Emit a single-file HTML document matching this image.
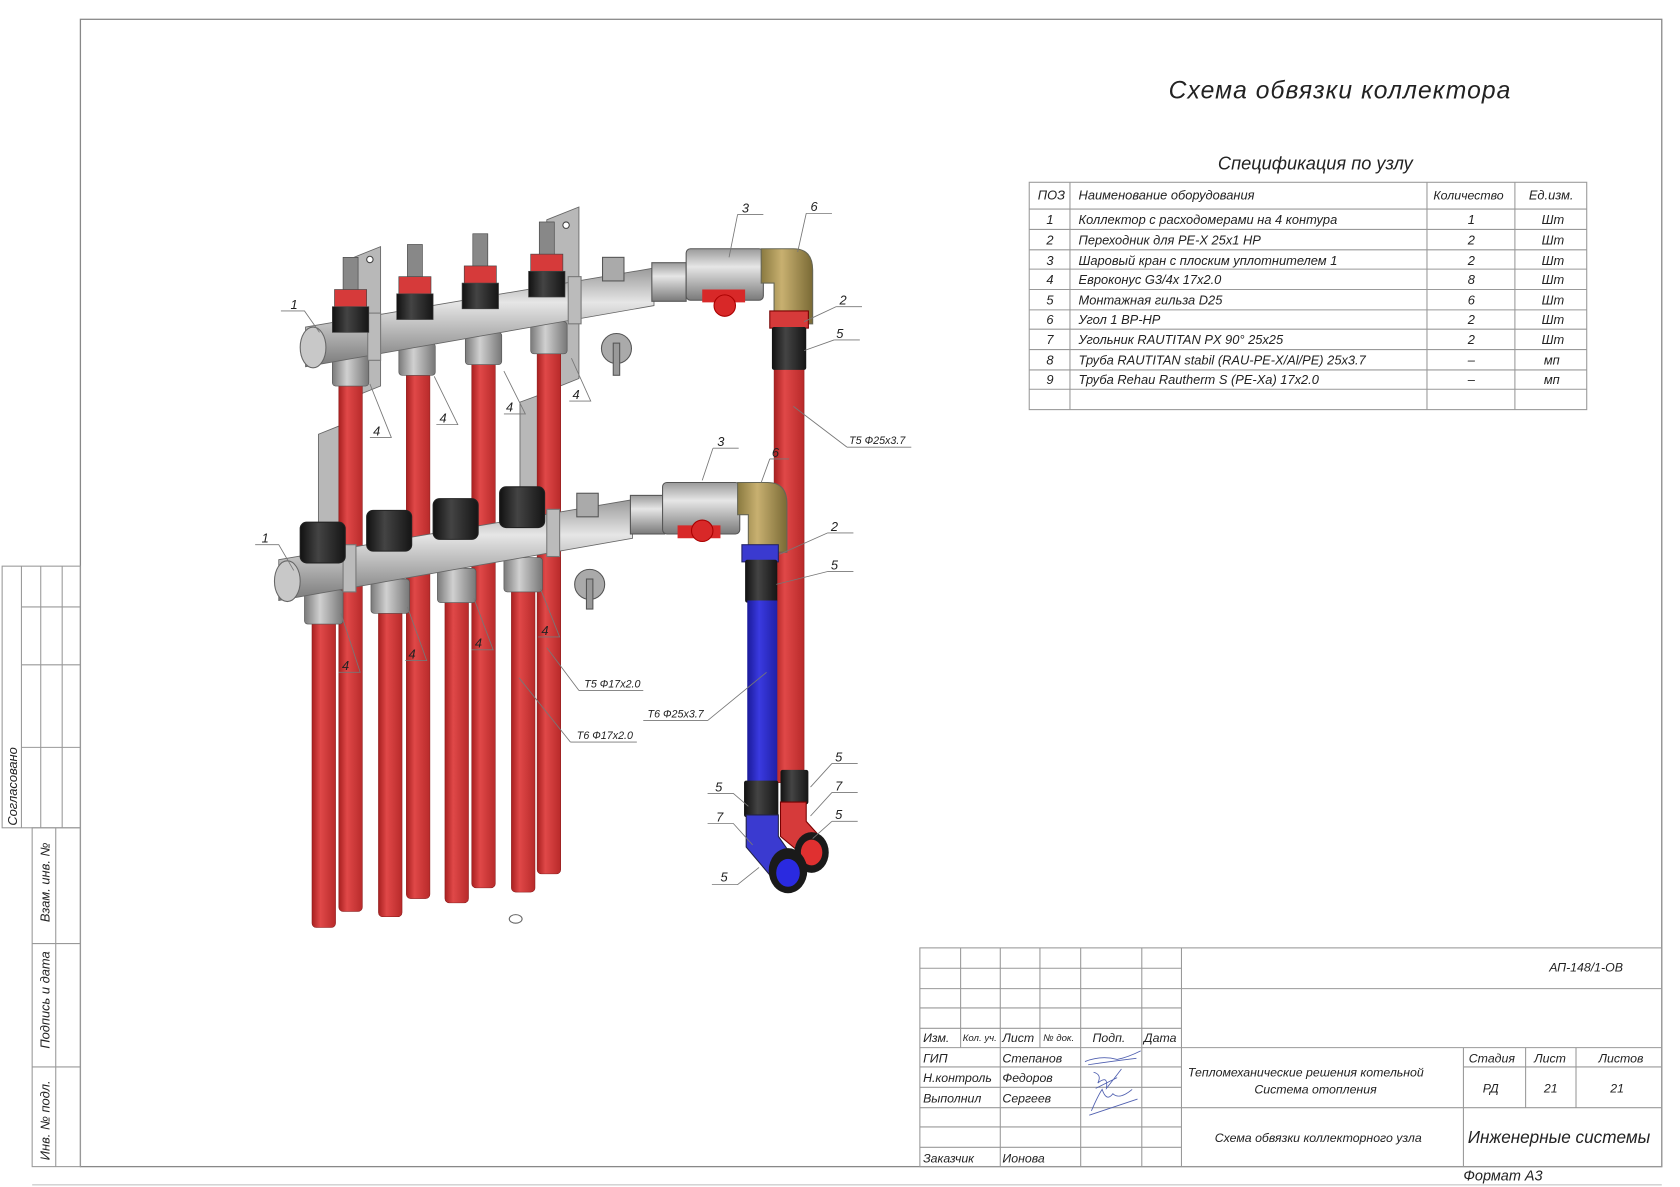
<!DOCTYPE html>
<html><head><meta charset="utf-8">
<style>
html,body{margin:0;padding:0;background:#fff;}
svg{display:block;}
text{font-family:"Liberation Sans","DejaVu Sans",sans-serif;font-style:italic;fill:#222;}
</style></head><body>
<svg width="1680" height="1187" viewBox="0 0 1567 1107" preserveAspectRatio="none" xmlns="http://www.w3.org/2000/svg">
<defs>
<linearGradient id="red" x1="0" x2="1"><stop offset="0" stop-color="#a82020"/><stop offset="0.35" stop-color="#e04848"/><stop offset="1" stop-color="#b82a2a"/></linearGradient>
<linearGradient id="blue" x1="0" x2="1"><stop offset="0" stop-color="#1a1a9a"/><stop offset="0.4" stop-color="#3a3ae0"/><stop offset="1" stop-color="#2020a8"/></linearGradient>
<linearGradient id="steel" x1="0" y1="0" x2="0" y2="1"><stop offset="0" stop-color="#9a9a9a"/><stop offset="0.35" stop-color="#e6e6e6"/><stop offset="1" stop-color="#7a7a7a"/></linearGradient>
<linearGradient id="brass" x1="0" x2="1"><stop offset="0" stop-color="#8a7a40"/><stop offset="0.4" stop-color="#c8b070"/><stop offset="1" stop-color="#7a6a35"/></linearGradient>
<linearGradient id="blk" x1="0" x2="1"><stop offset="0" stop-color="#111"/><stop offset="0.4" stop-color="#444"/><stop offset="1" stop-color="#151515"/></linearGradient>
<linearGradient id="nut" x1="0" x2="1"><stop offset="0" stop-color="#7a7a7a"/><stop offset="0.4" stop-color="#d0d0d0"/><stop offset="1" stop-color="#777"/></linearGradient>
</defs>

<rect x="75" y="18" width="1475" height="1070" fill="none" stroke="#888" stroke-width="1.2"/>
<line x1="30" y1="1105" x2="1550" y2="1105" stroke="#bbb"/>
<g stroke="#999" stroke-width="1" fill="none">
<rect x="2" y="528" width="73" height="244"/>
<line x1="20" y1="528" x2="20" y2="772"/><line x1="38" y1="528" x2="38" y2="772"/><line x1="58" y1="528" x2="58" y2="772"/>
<line x1="20" y1="566" x2="75" y2="566"/><line x1="20" y1="620" x2="75" y2="620"/><line x1="20" y1="697" x2="75" y2="697"/>
<rect x="30" y="772" width="45" height="316"/>
<line x1="52" y1="772" x2="52" y2="1088"/>
<line x1="30" y1="880" x2="75" y2="880"/><line x1="30" y1="995" x2="75" y2="995"/>
</g>
<text transform="translate(16,770) rotate(-90)" font-size="12">Согласовано</text>
<text transform="translate(46,860) rotate(-90)" font-size="12">Взам. инв. №</text>
<text transform="translate(46,978) rotate(-90)" font-size="12">Подпись и дата</text>
<text transform="translate(46,1082) rotate(-90)" font-size="12">Инв. № подл.</text>

<text x="1090" y="92" font-size="23" letter-spacing="1">Схема обвязки коллектора</text>
<text x="1136" y="158" font-size="17">Спецификация по узлу</text>

<g stroke="#999" stroke-width="1" fill="none">
<rect x="960" y="170" width="520" height="212"/>
<line x1="998" y1="170" x2="998" y2="382"/><line x1="1331" y1="170" x2="1331" y2="382"/><line x1="1413" y1="170" x2="1413" y2="382"/>
<line x1="960" y1="195" x2="1480" y2="195"/><line x1="960" y1="214" x2="1480" y2="214"/><line x1="960" y1="233" x2="1480" y2="233"/><line x1="960" y1="251" x2="1480" y2="251"/><line x1="960" y1="270" x2="1480" y2="270"/><line x1="960" y1="289" x2="1480" y2="289"/><line x1="960" y1="307" x2="1480" y2="307"/><line x1="960" y1="326" x2="1480" y2="326"/><line x1="960" y1="345" x2="1480" y2="345"/><line x1="960" y1="363" x2="1480" y2="363"/>
</g>
<g font-size="12">
<text x="968" y="186">ПОЗ</text><text x="1006" y="186">Наименование оборудования</text><text x="1337" y="186" font-size="11.5">Количество</text><text x="1426" y="186">Ед.изм.</text>
<text x="976" y="209">1</text><text x="1006" y="209">Коллектор с расходомерами на 4 контура</text><text x="1369" y="209">1</text><text x="1438" y="209">Шт</text>
<text x="976" y="228">2</text><text x="1006" y="228">Переходник для PE-X 25x1 HP</text><text x="1369" y="228">2</text><text x="1438" y="228">Шт</text>
<text x="976" y="247">3</text><text x="1006" y="247">Шаровый кран с плоским уплотнителем 1</text><text x="1369" y="247">2</text><text x="1438" y="247">Шт</text>
<text x="976" y="265">4</text><text x="1006" y="265">Евроконус G3/4x 17x2.0</text><text x="1369" y="265">8</text><text x="1438" y="265">Шт</text>
<text x="976" y="284">5</text><text x="1006" y="284">Монтажная гильза D25</text><text x="1369" y="284">6</text><text x="1438" y="284">Шт</text>
<text x="976" y="302">6</text><text x="1006" y="302">Угол 1 BP-HP</text><text x="1369" y="302">2</text><text x="1438" y="302">Шт</text>
<text x="976" y="321">7</text><text x="1006" y="321">Угольник RAUTITAN PX 90° 25x25</text><text x="1369" y="321">2</text><text x="1438" y="321">Шт</text>
<text x="976" y="340">8</text><text x="1006" y="340">Труба RAUTITAN stabil (RAU-PE-X/Al/PE) 25x3.7</text><text x="1369" y="340">–</text><text x="1440" y="340">мп</text>
<text x="976" y="358">9</text><text x="1006" y="358">Труба Rehau Rautherm S (PE-Xa) 17x2.0</text><text x="1369" y="358">–</text><text x="1440" y="358">мп</text>
</g>

<g stroke="#999" stroke-width="1" fill="none">
<rect x="858" y="884" width="692" height="204"/>
<line x1="1102" y1="884" x2="1102" y2="1088"/>
<line x1="896" y1="884" x2="896" y2="977"/>
<line x1="933" y1="884" x2="933" y2="1088"/>
<line x1="970" y1="884" x2="970" y2="977"/>
<line x1="1008" y1="884" x2="1008" y2="1088"/>
<line x1="1065" y1="884" x2="1065" y2="1088"/>
<line x1="858" y1="903" x2="1102" y2="903"/><line x1="858" y1="922" x2="1550" y2="922"/><line x1="858" y1="940" x2="1102" y2="940"/><line x1="858" y1="959" x2="1102" y2="959"/><line x1="858" y1="977" x2="1550" y2="977"/><line x1="858" y1="995" x2="1102" y2="995"/><line x1="858" y1="1014" x2="1102" y2="1014"/><line x1="858" y1="1033" x2="1550" y2="1033"/><line x1="858" y1="1051" x2="1102" y2="1051"/><line x1="858" y1="1070" x2="1102" y2="1070"/>
<line x1="1365" y1="977" x2="1365" y2="1088"/><line x1="1423" y1="977" x2="1423" y2="1033"/><line x1="1470" y1="977" x2="1470" y2="1033"/>
<line x1="1365" y1="995" x2="1550" y2="995"/>
</g>
<g font-size="11.5">
<text x="1445" y="906">АП-148/1-ОВ</text>
<text x="861" y="972">Изм.</text><text x="898" y="971" font-size="9">Кол. уч.</text><text x="935" y="972">Лист</text><text x="973" y="971" font-size="9">№ док.</text><text x="1019" y="972">Подп.</text><text x="1067" y="972">Дата</text>
<text x="861" y="991">ГИП</text><text x="935" y="991">Степанов</text>
<text x="861" y="1009">Н.контроль</text><text x="935" y="1009">Федоров</text>
<text x="861" y="1028">Выполнил</text><text x="935" y="1028">Сергеев</text>
<text x="861" y="1084">Заказчик</text><text x="935" y="1084">Ионова</text>
<text x="1108" y="1004">Теплом<tspan>еханические решения котельной</tspan></text>
<text x="1170" y="1020">Система отопления</text>
<text x="1370" y="991">Стадия</text><text x="1431" y="991">Лист</text><text x="1491" y="991">Листов</text>
<text x="1383" y="1019">РД</text><text x="1440" y="1019">21</text><text x="1502" y="1019">21</text>
<text x="1133" y="1065">Схема обвязки коллекторного узла</text>
<text x="1369" y="1066" font-size="16">Инженерные системы</text>
<text x="1365" y="1101" font-size="13.5">Формат А3</text>
</g>
<g stroke="#5060b0" stroke-width="0.8" fill="none">
<path d="M1012 990 q15 -6 30 -2 q10 -2 22 -8 M1015 993 q20 -3 45 -6"/>
<path d="M1020 1000 q8 2 4 10 q10 -8 8 5 q8 -10 14 -18 M1022 1015 l20 -10"/>
<path d="M1018 1036 q6 -14 10 -20 q4 12 10 4 q6 6 18 -4 M1016 1040 l45 -15"/>
</g>

<g fill="#b8b8b8" stroke="#666" stroke-width="0.8">
<path d="M330 240 l25 -10 v130 l-25 10z"/><path d="M510 205 l30 -12 v160 l-30 12z"/>
<path d="M297 405 l20 -8 v90 l-20 8z"/><path d="M485 375 l22 -8 v100 l-22 8z"/>
</g>
<circle cx="345" cy="242" r="3" fill="#fff" stroke="#444"/><circle cx="528" cy="210" r="3" fill="#fff" stroke="#444"/>

<g fill="url(#red)" stroke="#8a1a1a" stroke-width="0.5">
<rect x="316" y="345" width="22" height="505" rx="4"/>
<rect x="379" y="335" width="22" height="503" rx="4"/>
<rect x="440" y="325" width="22" height="503" rx="4"/>
<rect x="501" y="315" width="22" height="500" rx="4"/>
<rect x="291" y="565" width="22" height="300" rx="4"/>
<rect x="353" y="555" width="22" height="300" rx="4"/>
<rect x="415" y="545" width="22" height="297" rx="4"/>
<rect x="477" y="535" width="22" height="297" rx="4"/>
<rect x="722" y="290" width="28" height="440" rx="3"/>
</g>

<g fill="url(#nut)" stroke="#555" stroke-width="0.6">
<rect x="310" y="330" width="34" height="30" rx="3"/><rect x="372" y="320" width="34" height="30" rx="3"/><rect x="434" y="310" width="34" height="30" rx="3"/><rect x="495" y="300" width="34" height="30" rx="3"/>
</g>
<path d="M285 305 L610 250 L610 285 L285 342 Z" fill="url(#steel)" stroke="#666" stroke-width="0.8"/>
<ellipse cx="292" cy="324" rx="12" ry="19" fill="#c8c8c8" stroke="#666"/>
<rect x="343" y="292" width="12" height="44" fill="#bbb" stroke="#777"/><rect x="530" y="258" width="12" height="44" fill="#bbb" stroke="#777"/>
<g stroke="#444" stroke-width="0.6">
<rect x="320" y="240" width="14" height="35" fill="#888"/><rect x="312" y="270" width="30" height="18" fill="#d63a3a"/><rect x="310" y="286" width="34" height="24" fill="url(#blk)"/>
<rect x="380" y="228" width="14" height="35" fill="#888"/><rect x="372" y="258" width="30" height="18" fill="#d63a3a"/><rect x="370" y="274" width="34" height="24" fill="url(#blk)"/>
<rect x="441" y="218" width="14" height="35" fill="#888"/><rect x="433" y="248" width="30" height="18" fill="#d63a3a"/><rect x="431" y="264" width="34" height="24" fill="url(#blk)"/>
<rect x="503" y="207" width="14" height="35" fill="#888"/><rect x="495" y="237" width="30" height="18" fill="#d63a3a"/><rect x="493" y="253" width="34" height="24" fill="url(#blk)"/>
</g>
<rect x="562" y="240" width="20" height="22" fill="#aaa" stroke="#555"/><circle cx="575" cy="325" r="14" fill="#aaa" stroke="#555"/><rect x="572" y="320" width="6" height="30" fill="#999" stroke="#555"/>
<rect x="608" y="245" width="32" height="36" fill="url(#steel)" stroke="#555"/>
<rect x="640" y="232" width="72" height="48" rx="4" fill="url(#steel)" stroke="#555"/>
<path d="M655 270 h40 v12 h-40z" fill="#d82828"/><circle cx="676" cy="285" r="10" fill="#d82828" stroke="#a00"/>
<path d="M710 232 h30 q18 0 18 20 v50 h-36 v-38 h-12z" fill="url(#brass)" stroke="#665"/>
<rect x="718" y="290" width="36" height="16" fill="#d63a3a" stroke="#700"/>
<rect x="720" y="305" width="32" height="40" rx="2" fill="url(#blk)"/>

<g fill="url(#nut)" stroke="#555" stroke-width="0.6">
<rect x="284" y="550" width="36" height="32" rx="3"/><rect x="346" y="540" width="36" height="32" rx="3"/><rect x="408" y="530" width="36" height="32" rx="3"/><rect x="470" y="520" width="36" height="32" rx="3"/>
</g>
<path d="M260 522 L590 466 L590 502 L260 560 Z" fill="url(#steel)" stroke="#666" stroke-width="0.8"/>
<ellipse cx="268" cy="542" rx="12" ry="19" fill="#c8c8c8" stroke="#666"/>
<rect x="320" y="508" width="12" height="44" fill="#bbb" stroke="#777"/><rect x="510" y="475" width="12" height="44" fill="#bbb" stroke="#777"/>
<g fill="url(#blk)" stroke="#222">
<rect x="280" y="487" width="42" height="38" rx="6"/><rect x="342" y="476" width="42" height="38" rx="6"/><rect x="404" y="465" width="42" height="38" rx="6"/><rect x="466" y="454" width="42" height="38" rx="6"/>
</g>
<rect x="538" y="460" width="20" height="22" fill="#aaa" stroke="#555"/><circle cx="550" cy="545" r="14" fill="#aaa" stroke="#555"/><rect x="547" y="540" width="6" height="28" fill="#999" stroke="#555"/>
<rect x="588" y="462" width="32" height="36" fill="url(#steel)" stroke="#555"/>
<rect x="618" y="450" width="72" height="48" rx="4" fill="url(#steel)" stroke="#555"/>
<path d="M632 490 h40 v12 h-40z" fill="#d82828"/><circle cx="655" cy="495" r="10" fill="#d82828" stroke="#a00"/>
<path d="M688 450 h28 q18 0 18 20 v45 h-36 v-35 h-10z" fill="url(#brass)" stroke="#665"/>
<rect x="692" y="508" width="34" height="16" fill="#3a3ad0" stroke="#226"/>
<rect x="695" y="522" width="30" height="40" rx="2" fill="url(#blk)"/>
<rect x="697" y="560" width="28" height="172" fill="url(#blue)"/>
<rect x="694" y="728" width="32" height="34" rx="2" fill="url(#blk)"/>
<rect x="728" y="718" width="26" height="32" rx="2" fill="url(#blk)"/>
<path d="M728 748 h24 v18 l18 20 l-18 14 l-24 -20z" fill="#d63a3a" stroke="#700"/>
<ellipse cx="757" cy="795" rx="16" ry="19" fill="#1a1a1a"/><ellipse cx="757" cy="795" rx="10" ry="12" fill="#e03030"/>
<path d="M696 760 h30 v20 l14 20 l-22 16 l-22 -26z" fill="#3a3ad0" stroke="#224"/>
<ellipse cx="735" cy="812" rx="18" ry="21" fill="#1a1a1a"/><ellipse cx="735" cy="814" rx="11" ry="13" fill="#2a2ae0"/>
<ellipse cx="481" cy="857" rx="6" ry="4" fill="none" stroke="#666"/>

<g stroke="#777" stroke-width="0.8" fill="none">
<path d="M688 200 h24 M688 200 l-8 40"/><path d="M752 199 h24 M752 199 l-8 36"/>
<path d="M262 290 h22 l14 20"/><path d="M780 286 h24 M780 286 l-30 14"/><path d="M778 317 h24 M778 317 l-28 10"/>
<path d="M345 408 h20 l-20 -50"/><path d="M407 396 h20 l-22 -45"/><path d="M470 386 h20 l-20 -40"/><path d="M531 374 h20 l-18 -40"/>
<path d="M790 417 h60 M790 417 l-50 -38"/>
<path d="M665 418 h24 M665 418 l-10 30"/><path d="M718 428 h18 M718 428 l-8 22"/>
<path d="M772 497 h24 M772 497 l-45 20"/><path d="M772 533 h24 M772 533 l-48 12"/>
<path d="M238 508 h22 l14 24"/>
<path d="M316 627 h20 l-18 -55"/><path d="M378 616 h20 l-18 -50"/><path d="M440 606 h20 l-18 -48"/><path d="M502 594 h20 l-18 -45"/>
<path d="M540 644 h60 M540 644 l-30 -40"/><path d="M600 672 h60 M660 672 l55 -45"/><path d="M532 692 h62 M532 692 l-48 -60"/>
<path d="M776 712 h24 M776 712 l-20 22"/><path d="M776 739 h24 M776 739 l-20 22"/><path d="M776 766 h24 M776 766 l-18 16"/>
<path d="M660 740 h24 l14 12"/><path d="M660 768 h24 l18 20"/><path d="M664 825 h24 l20 -16"/>
</g>
<g font-size="12">
<text x="692" y="198">3</text><text x="756" y="197">6</text><text x="271" y="288">1</text><text x="783" y="284">2</text><text x="780" y="315">5</text>
<text x="348" y="406">4</text><text x="410" y="394">4</text><text x="472" y="384">4</text><text x="534" y="372">4</text>
<text x="669" y="416">3</text><text x="720" y="426">6</text><text x="775" y="495">2</text><text x="775" y="531">5</text><text x="244" y="506">1</text>
<text x="319" y="625">4</text><text x="381" y="614">4</text><text x="443" y="604">4</text><text x="505" y="592">4</text>
<text x="779" y="710">5</text><text x="779" y="737">7</text><text x="779" y="764">5</text><text x="667" y="738">5</text><text x="668" y="766">7</text><text x="672" y="822">5</text>
</g>
<g font-size="10">
<text x="792" y="414">Т5 Ф25х3.7</text><text x="545" y="641">Т5 Ф17х2.0</text><text x="604" y="669">Т6 Ф25х3.7</text><text x="538" y="689">Т6 Ф17х2.0</text>
</g>
</svg>
</body></html>
